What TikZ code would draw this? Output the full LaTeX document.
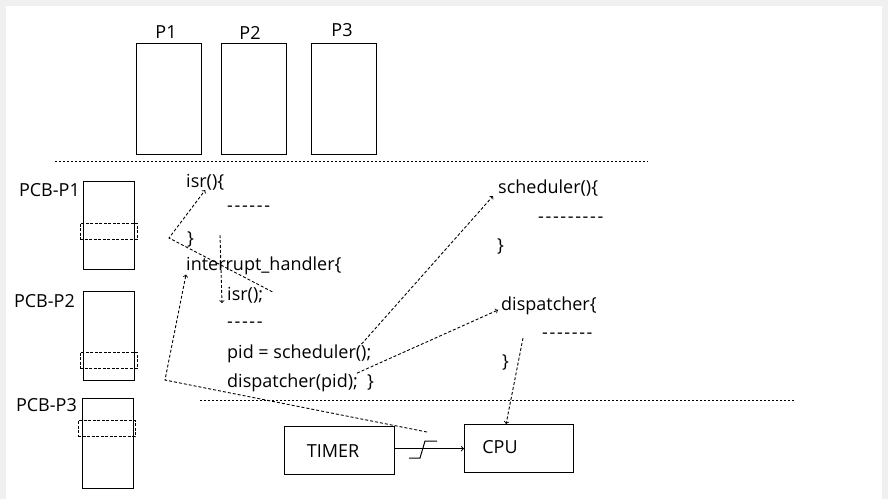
\documentclass[tikz,border=0pt]{standalone}
\usepackage{fontspec}
\setmainfont{Open Sans}[Ligatures=TeXOff]
\definecolor{framegray}{HTML}{F0F0F0}
\tikzset{
    box/.style={
        rectangle,
        draw=black,
        line width=1.2pt,
        inner sep=0pt
    },
    slot/.style={
        rectangle,
        draw=black,
        dash pattern=on 3pt off 1.5pt,
        line width=1pt,
        inner sep=0pt,
        minimum width=57pt,
        minimum height=16pt
    },
    code/.style={
        anchor=base west,
        inner sep=0pt,
        font=\fontsize{18}{20}\selectfont
    },
    filler/.style={
        code,
        font=\fontsize{18}{20}\selectfont\addfontfeature{LetterSpace=9}
    },
    lbl/.style={
        inner sep=0pt,
        font=\fontsize{18}{20}\selectfont
    },
    link/.style={
        draw,
        ->,
        dash pattern=on 3pt off 2pt,
        line width=0.9pt
    },
    sepline/.style={
        dash pattern=on 2.3pt off 1.7pt,
        line width=1.1pt
    }
}

\begin{document}
\begin{tikzpicture}[x=1pt,y=-1pt]
        \fill[framegray] (0,0) rectangle (888,499);
        \fill[white] (6,6) rectangle (882,499);
        \useasboundingbox (0,0) rectangle (888,499);

        % processes
        \node[box,minimum width=65pt,minimum height=111pt,anchor=north west] (p1) at (136,43) {};
        \node[box,minimum width=65pt,minimum height=111pt,anchor=north west] (p2) at (221,43) {};
        \node[box,minimum width=65pt,minimum height=111pt,anchor=north west] (p3) at (311,43) {};
        \node[lbl] (p1label) at (166,32) {P1};
        \node[lbl] (p2label) at (250,33) {P2};
        \node[lbl] (p3label) at (342,30) {P3};

        \draw[sepline] (55,161.5) -- (648,161.5);
        \draw[sepline] (200,400.5) -- (794,400.5);

        % PCBs
        \node[box,minimum width=51pt,minimum height=88pt,anchor=north west] (pcb1) at (83,181) {};
        \node[box,minimum width=51pt,minimum height=89pt,anchor=north west] (pcb2) at (83,291) {};
        \node[box,minimum width=51pt,minimum height=90pt,anchor=north west] (pcb3) at (82,398) {};
        \node[slot] (slot1) at (108.5,231) {};
        \node[slot] (slot2) at (108.5,360) {};
        \node[slot] (slot3) at (106.5,428.5) {};
        \node[lbl,anchor=east] (pcb1label) at (80,190) {PCB-P1};
        \node[lbl,anchor=east] (pcb2label) at (75,301) {PCB-P2};
        \node[lbl,anchor=east] (pcb3label) at (77,405) {PCB-P3};

        % kernel code
        \node[code] (isrdef) at (186,187) {isr()\{};
        \node[filler] (isrbody) at (227,211) {------};
        \node[code] (isrend) at (187,244) {\}};
        \node[code] (handler) at (186,270) {interrupt\_handler\{};
        \node[code] (isrcall) at (227,300) {isr();};
        \node[filler] (handlerbody) at (227,327) {-----};
        \node[code] (schedcall) at (227,358) {pid = scheduler();};
        \node[code] (dispcall) at (227,387) {dispatcher(pid);~~\}};

        \node[code] (scheddef) at (498,193) {scheduler()\{};
        \node[filler] (schedbody) at (538,222) {---------};
        \node[code] (schedend) at (497,251) {\}};
        \node[code] (dispdef) at (501,310) {dispatcher\{};
        \node[filler] (dispbody) at (542,338) {-------};
        \node[code] (dispend) at (502,367) {\}};

        % hardware
        \node[box,minimum width=110pt,minimum height=48pt,anchor=north west] (timer) at (284,426) {};
        \node[lbl] (timerlabel) at (333,451) {TIMER};
        \node[box,minimum width=109pt,minimum height=48pt,anchor=north west] (cpu) at (464,424) {};
        \node[lbl] (cpulabel) at (500,447) {CPU};

        \path[draw,->,line width=1pt] (timer.east |- cpu.west) -- (cpu.west);
        \coordinate (pulse) at (423,450);
        \draw[line width=1pt] ([shift={(-14,8)}]pulse) -- ++(11,0) -- ++(5,-17) -- ++(12,0);

        \coordinate (irq) at (427,432);
        \coordinate (irqbend) at (165,380);
        \coordinate (retbend) at (169,238);
        \coordinate (flowtop) at (220,235);
        \coordinate (disppick) at (523,338);

        \path[link] (irq) -- (irqbend) -- (handler.south west);
        \path[link] ([xshift=9pt,yshift=3pt]isrcall.east) -- (retbend) -- (isrdef.south);
        \path[link] (flowtop) -- ([xshift=-5pt]isrcall.south west);
        \path[link] ([xshift=-10pt]schedcall.north east) -- ([xshift=-5pt]scheddef.south west);
        \path[link] ([xshift=130pt]dispcall.north west) -- ([xshift=-3pt]dispdef.base west);
        \path[link] (disppick) -- ([xshift=-13pt]cpu.north);
\end{tikzpicture}
\end{document}
